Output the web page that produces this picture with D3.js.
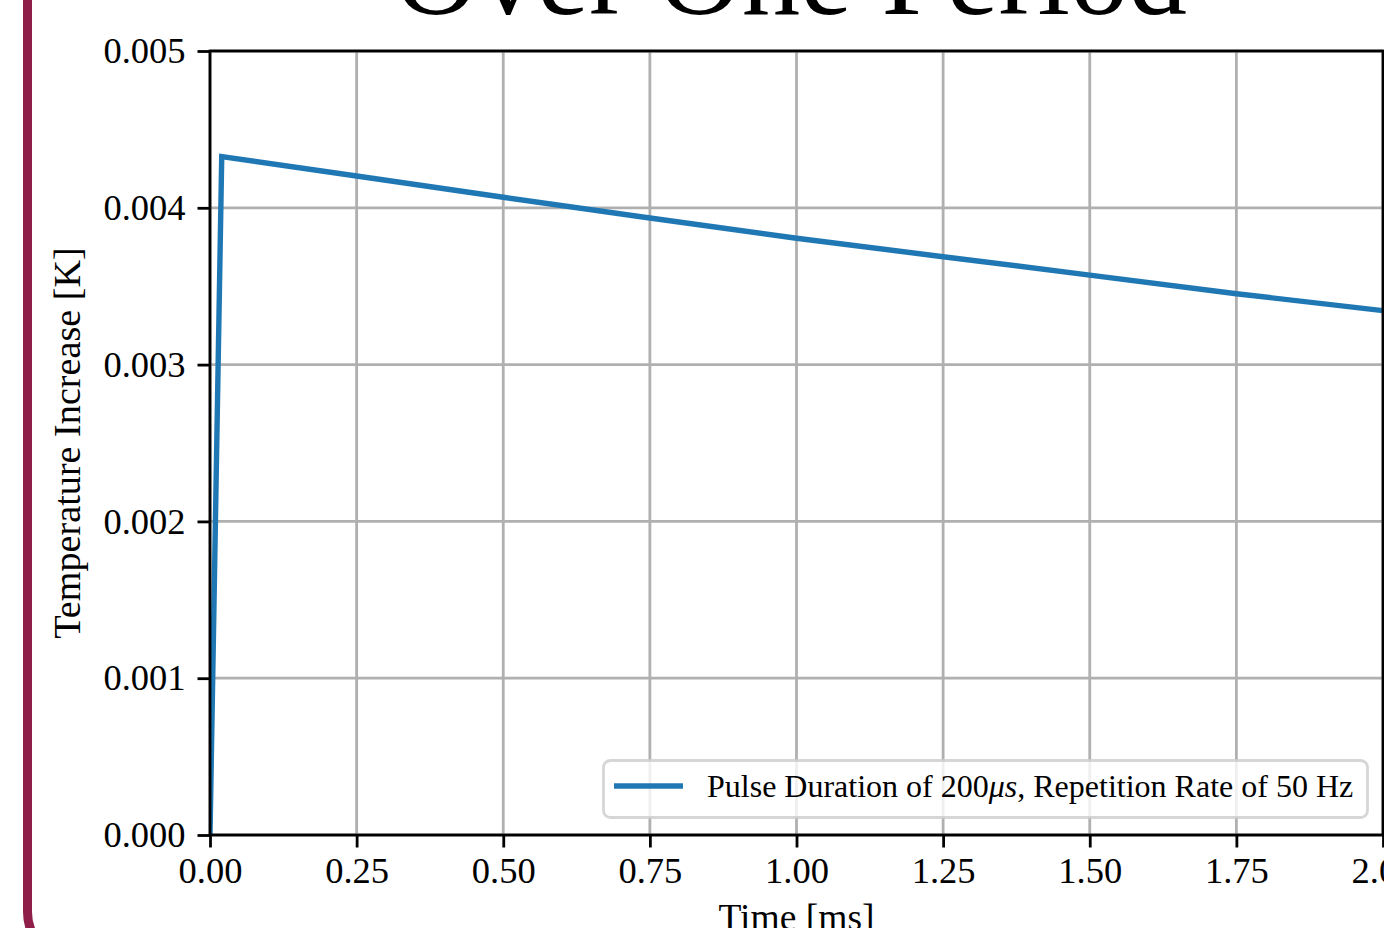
<!DOCTYPE html>
<html>
<head>
<meta charset="utf-8">
<script src="https://cdn.jsdelivr.net/npm/d3@7"></script>
<style>
  html, body { margin: 0; padding: 0; background: #fff; overflow: hidden; }
  svg { display: block; font-family: "Liberation Serif", "Times New Roman", serif; }
</style>
</head>
<body>
<svg id="svgChart" width="1384" height="928"></svg>
<script>
// Data
let timeMs = [0.0, 0.02, 0.25, 0.5, 0.75, 1.0, 1.25, 1.5, 1.75, 2.0];
let tempK = [0.0, 0.004326, 0.004203, 0.004067, 0.003935, 0.003806, 0.003688, 0.003571, 0.003452, 0.003344];
let xTicks = [0, 0.25, 0.5, 0.75, 1.0, 1.25, 1.5, 1.75, 2.0];
let yTicks = [0, 0.001, 0.002, 0.003, 0.004, 0.005];
let seriesLabel = "Pulse Duration of 200";

function drawChart(idSvg = "svgChart") {

  // Return generic translate string
  function genTranslate(a, b) {
    return `translate(${a}, ${b})`;
  };

  let svg = d3.select(`#${idSvg}`);

  // Plot area bounds
  let left = 210, right = 1383, top = 51, bottom = 835;
  let lineColour = "#1f77b4";

  let x = d3.scaleLinear().domain([0, 2]).range([left, right]);
  let y = d3.scaleLinear().domain([0, 0.005]).range([bottom, top]);

  // Maroon rounded frame behind everything
  svg.append("rect")
    .attr("x", 27.5)
    .attr("y", -80)
    .attr("width", 1500)
    .attr("height", 1040)
    .attr("rx", 48)
    .attr("fill", "none")
    .attr("stroke", "#8f1f48")
    .attr("stroke-width", 9);

  // Title (only its lower part shows)
  svg.append("text")
    .attr("x", (left + right) / 2 - 6)
    .attr("y", 14)
    .attr("text-anchor", "middle")
    .attr("font-size", "117px")
    .text("Over One Period");

  // Grid lines
  let grid = svg.append("g")
    .attr("stroke", "#b0b0b0")
    .attr("stroke-width", 2.8);
  grid.selectAll(".gx")
    .data(xTicks)
    .join("line")
      .attr("class", "gx")
      .attr("x1", d => x(d)).attr("x2", d => x(d))
      .attr("y1", top).attr("y2", bottom);
  grid.selectAll(".gy")
    .data(yTicks)
    .join("line")
      .attr("class", "gy")
      .attr("x1", left).attr("x2", right)
      .attr("y1", d => y(d)).attr("y2", d => y(d));

  // Data line, clipped to the axes
  svg.append("clipPath")
    .attr("id", "clipPlot")
    .append("rect")
      .attr("x", left).attr("y", top)
      .attr("width", right - left).attr("height", bottom - top);

  let line = d3.line()
    .x((d, i) => x(timeMs[i]))
    .y(d => y(d));

  svg.append("path")
    .datum(tempK)
    .attr("clip-path", "url(#clipPlot)")
    .attr("fill", "none")
    .attr("stroke", lineColour)
    .attr("stroke-width", 5.4)
    .attr("stroke-linejoin", "miter")
    .attr("d", line);

  // Axes with matplotlib-like ticks
  let xAxis = d3.axisBottom(x)
    .tickValues(xTicks)
    .tickFormat(d3.format(".2f"))
    .tickSize(12.5)
    .tickPadding(10);
  let yAxis = d3.axisLeft(y)
    .tickValues(yTicks)
    .tickFormat(d3.format(".3f"))
    .tickSize(12.5)
    .tickPadding(12);

  let gx = svg.append("g")
    .attr("transform", genTranslate(0, bottom))
    .call(xAxis);
  let gy = svg.append("g")
    .attr("transform", genTranslate(left, 0))
    .call(yAxis);

  [gx, gy].forEach(g => {
    g.select(".domain").remove();
    g.selectAll("line").attr("stroke", "#000").attr("stroke-width", 2.8);
    g.selectAll("text")
      .attr("fill", "#000")
      .attr("font-family", "Liberation Serif, serif")
      .attr("font-size", "36.5px");
  });
  gx.selectAll("text").attr("dy", "0.71em");

  // Spines
  svg.append("rect")
    .attr("x", left).attr("y", top)
    .attr("width", right - left).attr("height", bottom - top)
    .attr("fill", "none")
    .attr("stroke", "#000")
    .attr("stroke-width", 2.8);

  // Axis labels
  svg.append("text")
    .attr("x", (left + right) / 2)
    .attr("y", 930)
    .attr("text-anchor", "middle")
    .attr("font-size", "37.5px")
    .text("Time [ms]");

  svg.append("text")
    .attr("transform", genTranslate(80, 443) + " rotate(-90)")
    .attr("text-anchor", "middle")
    .attr("font-size", "38.2px")
    .text("Temperature Increase [K]");

  // Legend
  let legend = svg.append("g");
  legend.append("rect")
    .attr("x", 603.5).attr("y", 760.5)
    .attr("width", 764).attr("height", 57)
    .attr("rx", 7)
    .attr("fill", "#fff")
    .attr("fill-opacity", 0.8)
    .attr("stroke", "#cccccc")
    .attr("stroke-opacity", 0.8)
    .attr("stroke-width", 2.8);
  legend.append("line")
    .attr("x1", 614).attr("x2", 683)
    .attr("y1", 786).attr("y2", 786)
    .attr("stroke", lineColour)
    .attr("stroke-width", 5.4);
  let lt = legend.append("text")
    .attr("x", 707)
    .attr("y", 797)
    .attr("font-size", "32px");
  lt.append("tspan").text(seriesLabel);
  lt.append("tspan").attr("font-style", "italic").text("\u03bcs");
  lt.append("tspan").text(", Repetition Rate of 50 Hz");

}

drawChart("svgChart");
</script>
</body>
</html>
